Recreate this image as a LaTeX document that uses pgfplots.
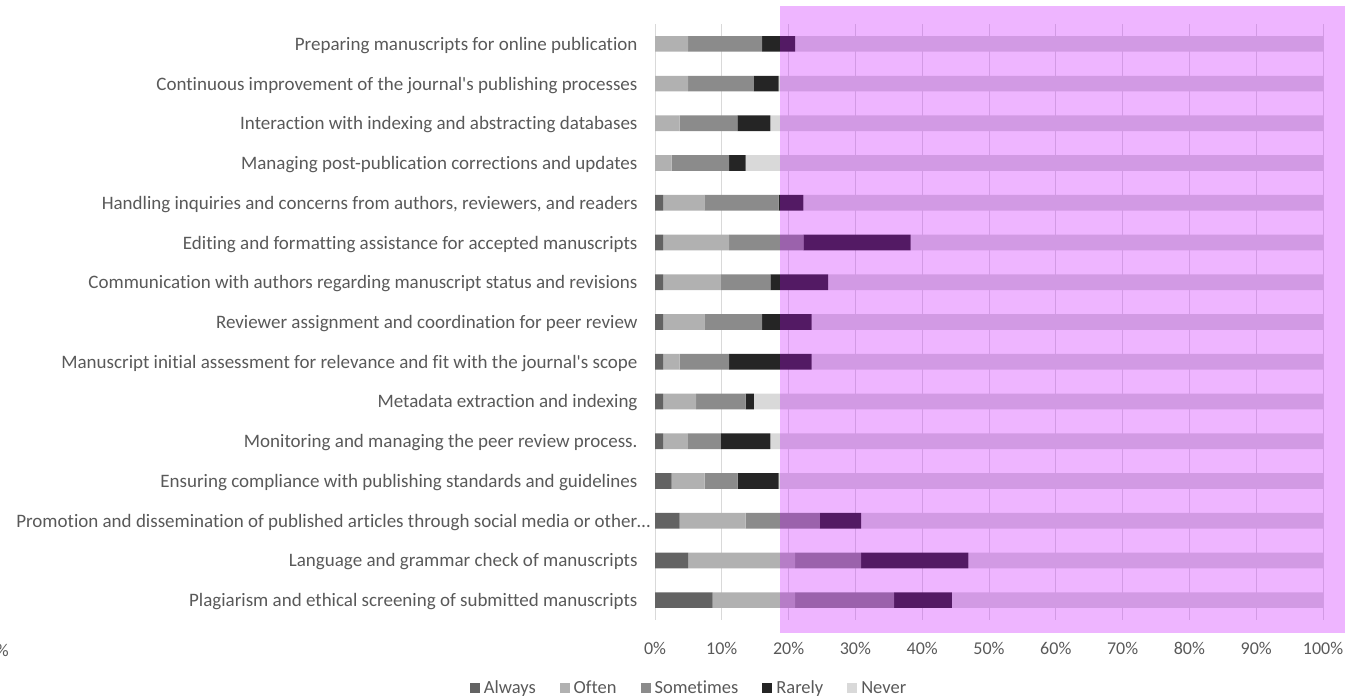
\documentclass[border=0pt]{standalone}
\usepackage{fontspec}
\setmainfont{Carlito}[Ligatures={NoCommon}]
\usepackage{pgfplots}
\usepackage{pgfplotstable}
\pgfplotsset{compat=1.18}

\definecolor{cAlways}{HTML}{636363}
\definecolor{cOften}{HTML}{B1B1B1}
\definecolor{cSometimes}{HTML}{8B8B8B}
\definecolor{cRarely}{HTML}{252525}
\definecolor{cNever}{HTML}{D9D9D9}
\definecolor{gridgray}{HTML}{D9D9D9}
\definecolor{labelgray}{HTML}{595959}
\definecolor{highlight}{RGB}{196,0,255}

% share of respondents (n = 81) per answer, in percent
\pgfplotstableread{
idx always often sometimes rarely never
0   0.00   4.94  11.11  4.94  79.01
1   0.00   4.94   9.88  3.70  81.48
2   0.00   3.70   8.64  4.94  82.72
3   0.00   2.47   8.64  2.47  86.42
4   1.23   6.17  11.11  3.70  77.79
5   1.23   9.88  11.11 16.05  61.73
6   1.23   8.64   7.41  8.64  74.08
7   1.23   6.17   8.64  7.41  76.55
8   1.23   2.47   7.41 12.35  76.54
9   1.23   4.94   7.41  1.23  85.19
10  1.23   3.70   4.94  7.41  82.72
11  2.47   4.94   4.94  6.17  81.48
12  3.70   9.88  11.11  6.17  69.14
13  4.94  16.05   9.88 16.05  53.08
14  8.64  12.35  14.81  8.64  55.56
}\datatable

\begin{document}
\begin{tikzpicture}
\path[use as bounding box] (0,0) rectangle (1345bp,696bp);
\begin{axis}[
  at={(655bp,76bp)}, anchor=south west,
  scale only axis, width=668bp, height=596bp,
  xbar stacked, bar width=15.7bp,
  xmin=0, xmax=100, ymin=-0.5, ymax=14.5, y dir=reverse,
  axis line style={draw=none}, major tick length=0pt,
  xmajorgrids, grid style={line width=1bp, gridgray},
  xtick={0,10,...,100},
  xticklabels={0\%,10\%,20\%,30\%,40\%,50\%,60\%,70\%,80\%,90\%,100\%},
  ytick={0,...,14},
  yticklabels={
    Preparing manuscripts for online publication,
    Continuous improvement of the journal\textquotesingle s publishing processes,
    Interaction with indexing and abstracting databases,
    Managing post-publication corrections and updates,
    {Handling inquiries and concerns from authors, reviewers, and readers},
    Editing and formatting assistance for accepted manuscripts,
    Communication with authors regarding manuscript status and revisions,
    Reviewer assignment and coordination for peer review,
    Manuscript initial assessment for relevance and fit with the journal\textquotesingle s scope,
    Metadata extraction and indexing,
    Monitoring and managing the peer review process.,
    Ensuring compliance with publishing standards and guidelines,
    Promotion and dissemination of published articles through social media or other\ldots\hspace*{-13bp},
    Language and grammar check of manuscripts,
    Plagiarism and ethical screening of submitted manuscripts},
  tick label style={text=labelgray},
  yticklabel style={font=\fontsize{19bp}{23bp}\selectfont, xshift=-14bp, yshift=-1.5bp},
  xticklabel style={font=\fontsize{18bp}{22bp}\selectfont, yshift=-19bp},
  legend style={at={(axis description cs:0.0494,-0.114)}, anchor=center,
    draw=none, fill=none, legend columns=-1,
    font=\fontsize{18.5bp}{22bp}\selectfont, text=labelgray,
    nodes={inner sep=0pt},
    /tikz/every odd column/.append style={column sep=4bp},
    /tikz/every even column/.append style={column sep=24bp}},
  legend image code/.code={\fill[#1] (0bp,-5bp) rectangle (10bp,5bp);},
]
\addplot[fill=cAlways, draw=none] table[x=always, y=idx] {\datatable};
\addplot[fill=cOften, draw=none] table[x=often, y=idx] {\datatable};
\addplot[fill=cSometimes, draw=none] table[x=sometimes, y=idx] {\datatable};
\addplot[fill=cRarely, draw=none] table[x=rarely, y=idx] {\datatable};
\addplot[fill=cNever, draw=none] table[x=never, y=idx] {\datatable};
\legend{Always, Often, Sometimes, Rarely, Never}
\end{axis}
% translucent highlight band
\fill[highlight, opacity=0.29] (780bp,63bp) rectangle (1345bp,690bp);
\node[anchor=east, inner sep=0pt, text=labelgray, font=\fontsize{18bp}{22bp}\selectfont] at (9bp,46bp) {\%};
\end{tikzpicture}
\end{document}
